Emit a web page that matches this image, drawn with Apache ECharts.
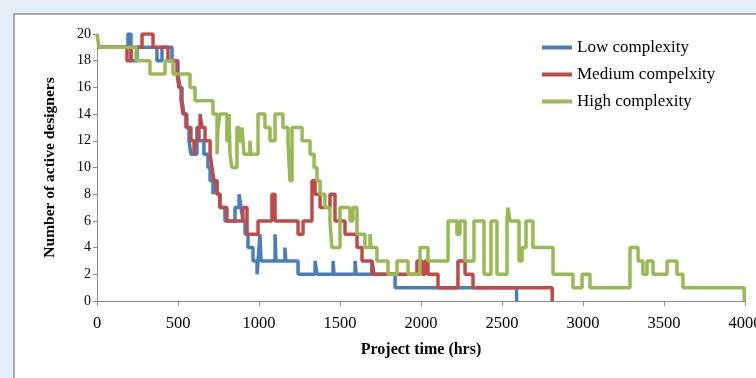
<!DOCTYPE html>
<html>
<head>
<meta charset="utf-8">
<script src="https://cdn.jsdelivr.net/npm/echarts@6/dist/echarts.min.js"></script>
<style>
html,body{margin:0;padding:0;background:#e3edf7;}
#chart{width:756px;height:378px;}
</style>
</head>
<body>
<div id="chart"></div>
<script>
// Series names
const seriesNames = ['Low complexity', 'Medium compelxity', 'High complexity'];
// Axis ticks
const xTicks = [0, 500, 1000, 1500, 2000, 2500, 3000, 3500, 4000];
const yTicks = [0, 2, 4, 6, 8, 10, 12, 14, 16, 18, 20];

// [project time (hrs), number of active designers] -- value from that time on
const lowData = [[0,19],[191,20],[210,18],[247,19],[370,18],[401,19],[463,18],[500,17],[512,16],[525,15],[537,14],[555,13],[568,12],[580,11],[617,13],[630,12],[660,11],[685,10],[698,9],[716,8],[728,9],[741,8],[759,7],[790,6],[852,7],[877,8],[889,7],[901,6],[914,5],[932,4],[963,3],[988,2],[994,3],[1006,5],[1013,3],[1099,5],[1105,3],[1160,4],[1166,3],[1241,2],[1346,3],[1358,2],[1457,3],[1463,2],[1593,3],[1600,2],[1698,3],[1710,2],[1840,1],[2590,0]];

const mediumData = [[0,19],[185,18],[210,19],[278,20],[346,19],[438,18],[494,17],[506,16],[519,15],[531,14],[549,13],[580,12],[599,11],[605,12],[623,13],[636,14],[648,13],[667,12],[698,11],[710,10],[722,9],[741,8],[759,7],[802,6],[901,7],[926,5],[994,6],[1080,8],[1099,6],[1241,5],[1272,6],[1327,9],[1346,8],[1377,7],[1438,8],[1469,6],[1531,5],[1605,4],[1636,3],[1698,2],[1975,3],[2006,2],[2025,3],[2043,2],[2105,1],[2228,3],[2272,2],[2321,1],[2810,0]];

const highData = [[0,20],[12,19],[241,18],[327,17],[420,18],[469,17],[574,16],[605,15],[716,14],[741,11],[747,13],[759,14],[802,12],[815,14],[821,11],[833,10],[864,13],[877,12],[895,13],[907,11],[944,12],[950,11],[994,14],[1037,13],[1068,12],[1099,14],[1148,13],[1179,12],[1191,9],[1204,13],[1266,12],[1315,11],[1340,10],[1358,9],[1377,8],[1407,7],[1438,6],[1450,4],[1500,7],[1562,6],[1580,7],[1605,5],[1654,4],[1685,5],[1691,4],[1728,3],[1796,2],[1852,3],[1920,2],[1994,4],[2043,3],[2167,6],[2222,5],[2241,6],[2272,3],[2327,6],[2389,2],[2432,6],[2469,2],[2531,6],[2537,7],[2549,6],[2605,3],[2624,4],[2648,6],[2691,4],[2815,2],[2938,1],[2994,2],[3043,1],[3290,4],[3340,3],[3370,2],[3395,3],[3432,2],[3519,3],[3580,2],[3617,1],[3995,0]];

const colors = ['#4a7ebb', '#be4b48', '#98b954'];
const serif = 'Liberation Serif';

const chart = echarts.init(document.getElementById('chart'));
chart.setOption({
  animation: false,
  backgroundColor: '#e3edf7',
  color: colors,
  graphic: [{
    type: 'rect', z: -10, silent: true,
    shape: {x: 14, y: 14, width: 800, height: 400},
    style: {fill: '#ffffff', stroke: '#8c8c8c', lineWidth: 1.5}
  }],
  grid: {left: 97, right: 11, top: 34, bottom: 77, outerBoundsMode: 'none', containLabel: false},
  legend: {
    orient: 'vertical', left: 537, top: 34,
    itemWidth: 30, itemHeight: 4, itemGap: 10,
    icon: 'rect',
    textStyle: {fontFamily: serif, fontSize: 17, color: '#000', lineHeight: 17},
    data: seriesNames
  },
  xAxis: {
    type: 'value', min: 0, max: 4000, interval: 500,
    name: 'Project time (hrs)', nameLocation: 'middle', nameGap: 41,
    nameTextStyle: {fontFamily: serif, fontSize: 16, fontWeight: 'bold', color: '#000'},
    axisLine: {show: true, lineStyle: {color: '#8c8c8c', width: 1}},
    axisTick: {show: true, length: 5, lineStyle: {color: '#8c8c8c'}},
    axisLabel: {fontFamily: serif, fontSize: 16.5, color: '#000', margin: 14,
      formatter: v => xTicks.includes(v) ? String(v) : ''},
    splitLine: {show: false}
  },
  yAxis: {
    type: 'value', min: 0, max: 20, interval: 2,
    name: 'Number of active designers', nameLocation: 'middle', nameGap: 39,
    nameTextStyle: {fontFamily: serif, fontSize: 15.5, fontWeight: 'bold', color: '#000'},
    axisLine: {show: true, lineStyle: {color: '#8c8c8c', width: 1}},
    axisTick: {show: true, length: 4, lineStyle: {color: '#8c8c8c'}},
    axisLabel: {fontFamily: serif, fontSize: 14, color: '#000', margin: 6,
      formatter: v => yTicks.includes(v) ? String(v) : ''},
    splitLine: {show: false}
  },
  series: [
    {name: seriesNames[0], type: 'line', step: 'end', data: lowData, showSymbol: false, lineStyle: {width: 3.5}, z: 2},
    {name: seriesNames[1], type: 'line', step: 'end', data: mediumData, showSymbol: false, lineStyle: {width: 3.5}, z: 3},
    {name: seriesNames[2], type: 'line', step: 'end', data: highData, showSymbol: false, lineStyle: {width: 3.5}, z: 4}
  ]
});
</script>
</body>
</html>
